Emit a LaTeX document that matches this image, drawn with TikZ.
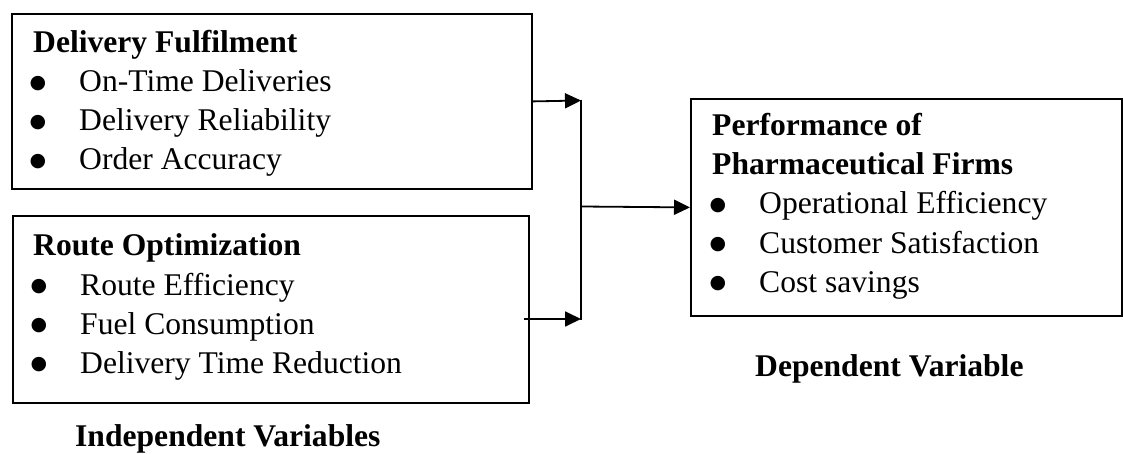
\documentclass[tikz,border=0pt]{standalone}
\usepackage{fontspec}
\setmainfont{Liberation Serif}
\newfontfamily\symfont{DejaVu Sans}
\usetikzlibrary{arrows.meta}
\begin{document}
\begin{tikzpicture}[x=1pt,y=1pt,
  box/.style={draw=black,line width=1.8pt,rectangle,inner sep=0pt,anchor=north west},
  txt/.style={anchor=base west,inner sep=0pt,font=\fontsize{31.6}{38}\selectfont},
  head/.style={txt,font=\fontsize{31.6}{38}\selectfont\bfseries},
  bul/.style={anchor=center,inner sep=0pt,yshift=9pt,font=\symfont\fontsize{19}{19}\selectfont},
  conn/.style={line width=1.8pt},
  arr/.style={conn,-{Triangle[length=16pt,width=15pt]}}]
\useasboundingbox (0,0) rectangle (1123,-454);
% boxes
\node[box,minimum width=520,minimum height=175] (df) at (11,-13) {};
\node[box,minimum width=516,minimum height=187] (ro) at (12,-215) {};
\node[box,minimum width=431,minimum height=217] (perf) at (690,-98) {};
% box 1 text
\node[head] (dfh) at (33,-53) {Delivery Fulfilment};
\node[bul] (dfb1) at (38,-93) {●};
\node[txt] (dft1) at (79,-92) {On-Time Deliveries};
\node[bul] (dfb2) at (38,-132) {●};
\node[txt] (dft2) at (79,-131) {Delivery Reliability};
\node[bul] (dfb3) at (38,-171) {●};
\node[txt] (dft3) at (79,-170) {Order Accuracy};
% box 2 text
\node[head] (roh) at (33,-255) {Route Optimization};
\node[bul] (rob1) at (39,-296) {●};
\node[txt] (rot1) at (80,-295) {Route Efficiency};
\node[bul] (rob2) at (39,-335) {●};
\node[txt] (rot2) at (80,-334) {Fuel Consumption};
\node[bul] (rob3) at (39,-374) {●};
\node[txt] (rot3) at (80,-373) {Delivery Time Reduction};
% right box text
\node[head] (ph1) at (712,-136) {Performance of};
\node[head] (ph2) at (712,-175) {Pharmaceutical Firms};
\node[bul] (pb1) at (718,-215) {●};
\node[txt] (pt1) at (759,-214) {Operational Efficiency};
\node[bul] (pb2) at (718,-254) {●};
\node[txt] (pt2) at (759,-253) {Customer Satisfaction};
\node[bul] (pb3) at (718,-293) {●};
\node[txt] (pt3) at (759,-292) {Cost savings};
% captions
\node[head] (iv) at (75,-446) {Independent Variables};
\node[head] (dv) at (755,-376) {Dependent Variable};
% connectors
\coordinate (jt) at (581,-100.5);
\coordinate (jm) at (581,-206.5);
\coordinate (jb) at (581,-319);
\coordinate (rs) at (524,-319);
\draw[arr] (df.east) -- (jt);
\draw[arr] (rs) -- (jb);
\draw[conn] ([yshift=0.9pt]jt) -- ([yshift=-0.9pt]jb);
\draw[arr] (jm) -- (perf.west);
\end{tikzpicture}
\end{document}
